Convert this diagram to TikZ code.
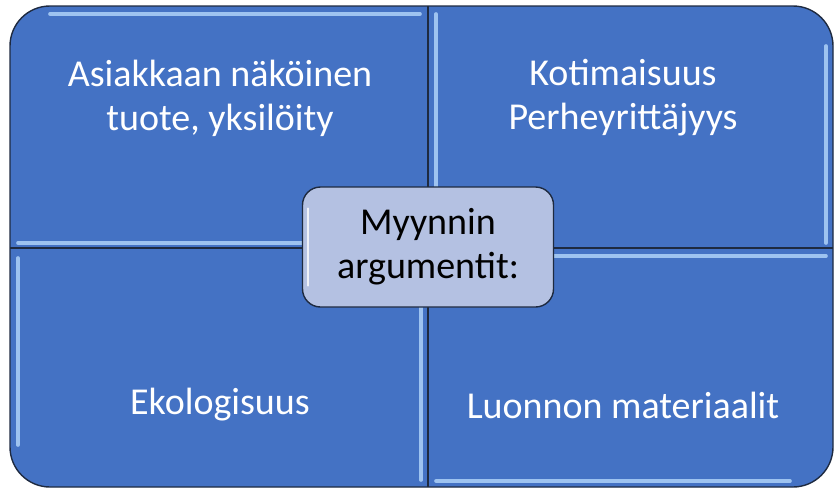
\documentclass[tikz,border=0pt]{standalone}
\usepackage{fontspec}
\setmainfont{Carlito}
\usetikzlibrary{positioning}

\definecolor{quadblue}{HTML}{4472C4}
\definecolor{shine}{HTML}{9EC3F0}
\definecolor{rimdark}{HTML}{1E2A40}
\definecolor{midfill}{HTML}{B4C1E2}

\begin{document}
\begin{tikzpicture}[x=1pt, y=-1pt,
    every node/.style={font=\fontsize{38}{44}\selectfont},
    quad/.style={fill=quadblue},
    rim/.style={draw=rimdark, line width=1.4pt},
    seam/.style={draw=rimdark, line width=1.2pt},
    glint/.style={draw=shine, line width=3.6pt, line cap=round},
    label/.style={text=white, align=center},
    hub/.style={draw=rimdark, line width=1.4pt, fill=midfill, rounded corners=18pt,
                minimum width=251pt, minimum height=120pt, align=center, text=black}]
              \useasboundingbox (0,0) rectangle (837,490);
              \fill[quad, rounded corners=40pt] (10,6) rectangle (833,487);

              % bevel highlights
              \draw[glint] (50,14) -- (420,14);
              \draw[glint] (18,243) -- (420,243);
              \draw[glint] (436,14) -- (436,243);
              \draw[glint] (826,46) -- (826,243);
              \draw[glint] (18,258) -- (18,445);
              \draw[glint] (421,258) -- (421,480);
              \draw[glint] (436,256) -- (826,256);
              \draw[glint] (436,481) -- (790,481);

              \coordinate (top) at (428,6);
              \coordinate (bot) at (428,487);
              \coordinate (lft) at (10,248);
              \coordinate (rgt) at (833,248);
              \draw[seam] (top) -- (bot);
              \draw[seam] (lft) -- (rgt);
              \draw[rim, rounded corners=40pt] (10,6) rectangle (833,487);

              \node[label] (tl) at (220,98) {Asiakkaan näköinen\\tuote, yksilöity};
              \node[label] (tr) at (623,98) {Kotimaisuus\\Perheyrittäjyys};
              \node[label] (bl) at (220,405) {Ekologisuus};
              \node[label] (br) at (623,405) {Luonnon materiaalit};

              \node[hub] (mid) at (428,247) {Myynnin\\argumentit:};
              \draw[draw=white, line width=1.6pt, line cap=round, opacity=0.8]
                      ([xshift=6pt, yshift=-22pt]mid.north west) -- ([xshift=6pt, yshift=22pt]mid.south west);
\end{tikzpicture}
\end{document}
